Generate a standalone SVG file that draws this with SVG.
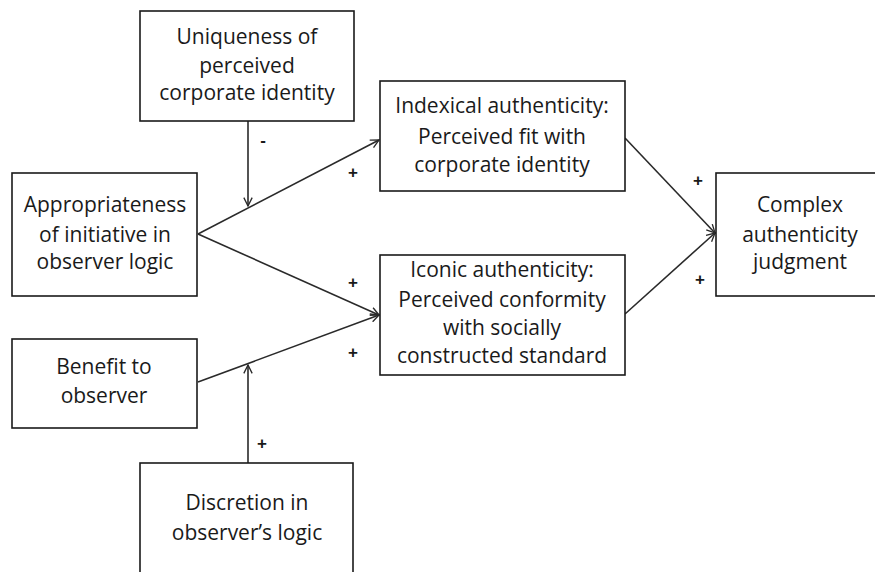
<svg xmlns="http://www.w3.org/2000/svg" width="875" height="572" viewBox="0 0 875 572">
<style>
.box{fill:#fff;stroke:#1a1a1a;stroke-width:1.6}
.t{font-family:"Open Sans","Liberation Sans",sans-serif;font-size:21px;fill:#1a1a1a;text-anchor:middle}
.c{fill:none;stroke:#2a2a2a;stroke-width:1.6}
.s{font-family:"Liberation Sans",sans-serif;font-size:17px;font-weight:bold;fill:#1a1a1a;text-anchor:middle}
</style>
<defs>
<marker id="arr" viewBox="0 0 12 12" refX="11" refY="6" markerWidth="10" markerHeight="10" markerUnits="userSpaceOnUse" orient="auto">
<path d="M1,1 L11,6 L1,11" fill="none" stroke="#2a2a2a" stroke-width="1.6"/>
</marker>
</defs>
<rect width="875" height="572" fill="#fff"/>
<g id="connectors">
<line class="c" x1="198" y1="234" x2="379" y2="140" marker-end="url(#arr)"/>
<line class="c" x1="198" y1="234" x2="379" y2="315" marker-end="url(#arr)"/>
<line class="c" x1="198" y1="382" x2="379" y2="315" marker-end="url(#arr)"/>
<line class="c" x1="248" y1="121" x2="248" y2="206" marker-end="url(#arr)"/>
<line class="c" x1="248" y1="463" x2="248" y2="365" marker-end="url(#arr)"/>
<line class="c" x1="625" y1="138" x2="715" y2="233" marker-end="url(#arr)"/>
<line class="c" x1="625" y1="314" x2="715" y2="233" marker-end="url(#arr)"/>
<text class="s" x="263" y="146">-</text>
<text class="s" x="353" y="178">+</text>
<text class="s" x="353" y="288">+</text>
<text class="s" x="353" y="358">+</text>
<text class="s" x="262" y="449">+</text>
<text class="s" x="698" y="186">+</text>
<text class="s" x="700" y="285">+</text>
</g>
<g id="uniqueness">
<rect class="box" x="140" y="11" width="214" height="110"/>
<text class="t" x="247" y="44">Uniqueness of</text>
<text class="t" x="247" y="73">perceived</text>
<text class="t" x="247" y="100">corporate identity</text>
</g>
<g id="appropriateness">
<rect class="box" x="12" y="173" width="185" height="123"/>
<text class="t" x="105" y="212">Appropriateness</text>
<text class="t" x="105" y="242">of initiative in</text>
<text class="t" x="105" y="269">observer logic</text>
</g>
<g id="benefit">
<rect class="box" x="12" y="339" width="185" height="89"/>
<text class="t" x="104" y="374">Benefit to</text>
<text class="t" x="104" y="403">observer</text>
</g>
<g id="discretion">
<rect class="box" x="140" y="463" width="213" height="130"/>
<text class="t" x="247" y="510">Discretion in</text>
<text class="t" x="247" y="540">observer’s logic</text>
</g>
<g id="indexical">
<rect class="box" x="380" y="81" width="245" height="110"/>
<text class="t" x="502" y="113">Indexical authenticity:</text>
<text class="t" x="502" y="144">Perceived fit with</text>
<text class="t" x="502" y="172">corporate identity</text>
</g>
<g id="iconic">
<rect class="box" x="380" y="255" width="245" height="120"/>
<text class="t" x="502" y="277">Iconic authenticity:</text>
<text class="t" x="502" y="307">Perceived conformity</text>
<text class="t" x="502" y="335">with socially</text>
<text class="t" x="502" y="363">constructed standard</text>
</g>
<g id="complex">
<rect class="box" x="716" y="173" width="170" height="123"/>
<text class="t" x="800" y="212">Complex</text>
<text class="t" x="800" y="242">authenticity</text>
<text class="t" x="800" y="269">judgment</text>
</g>
</svg>
